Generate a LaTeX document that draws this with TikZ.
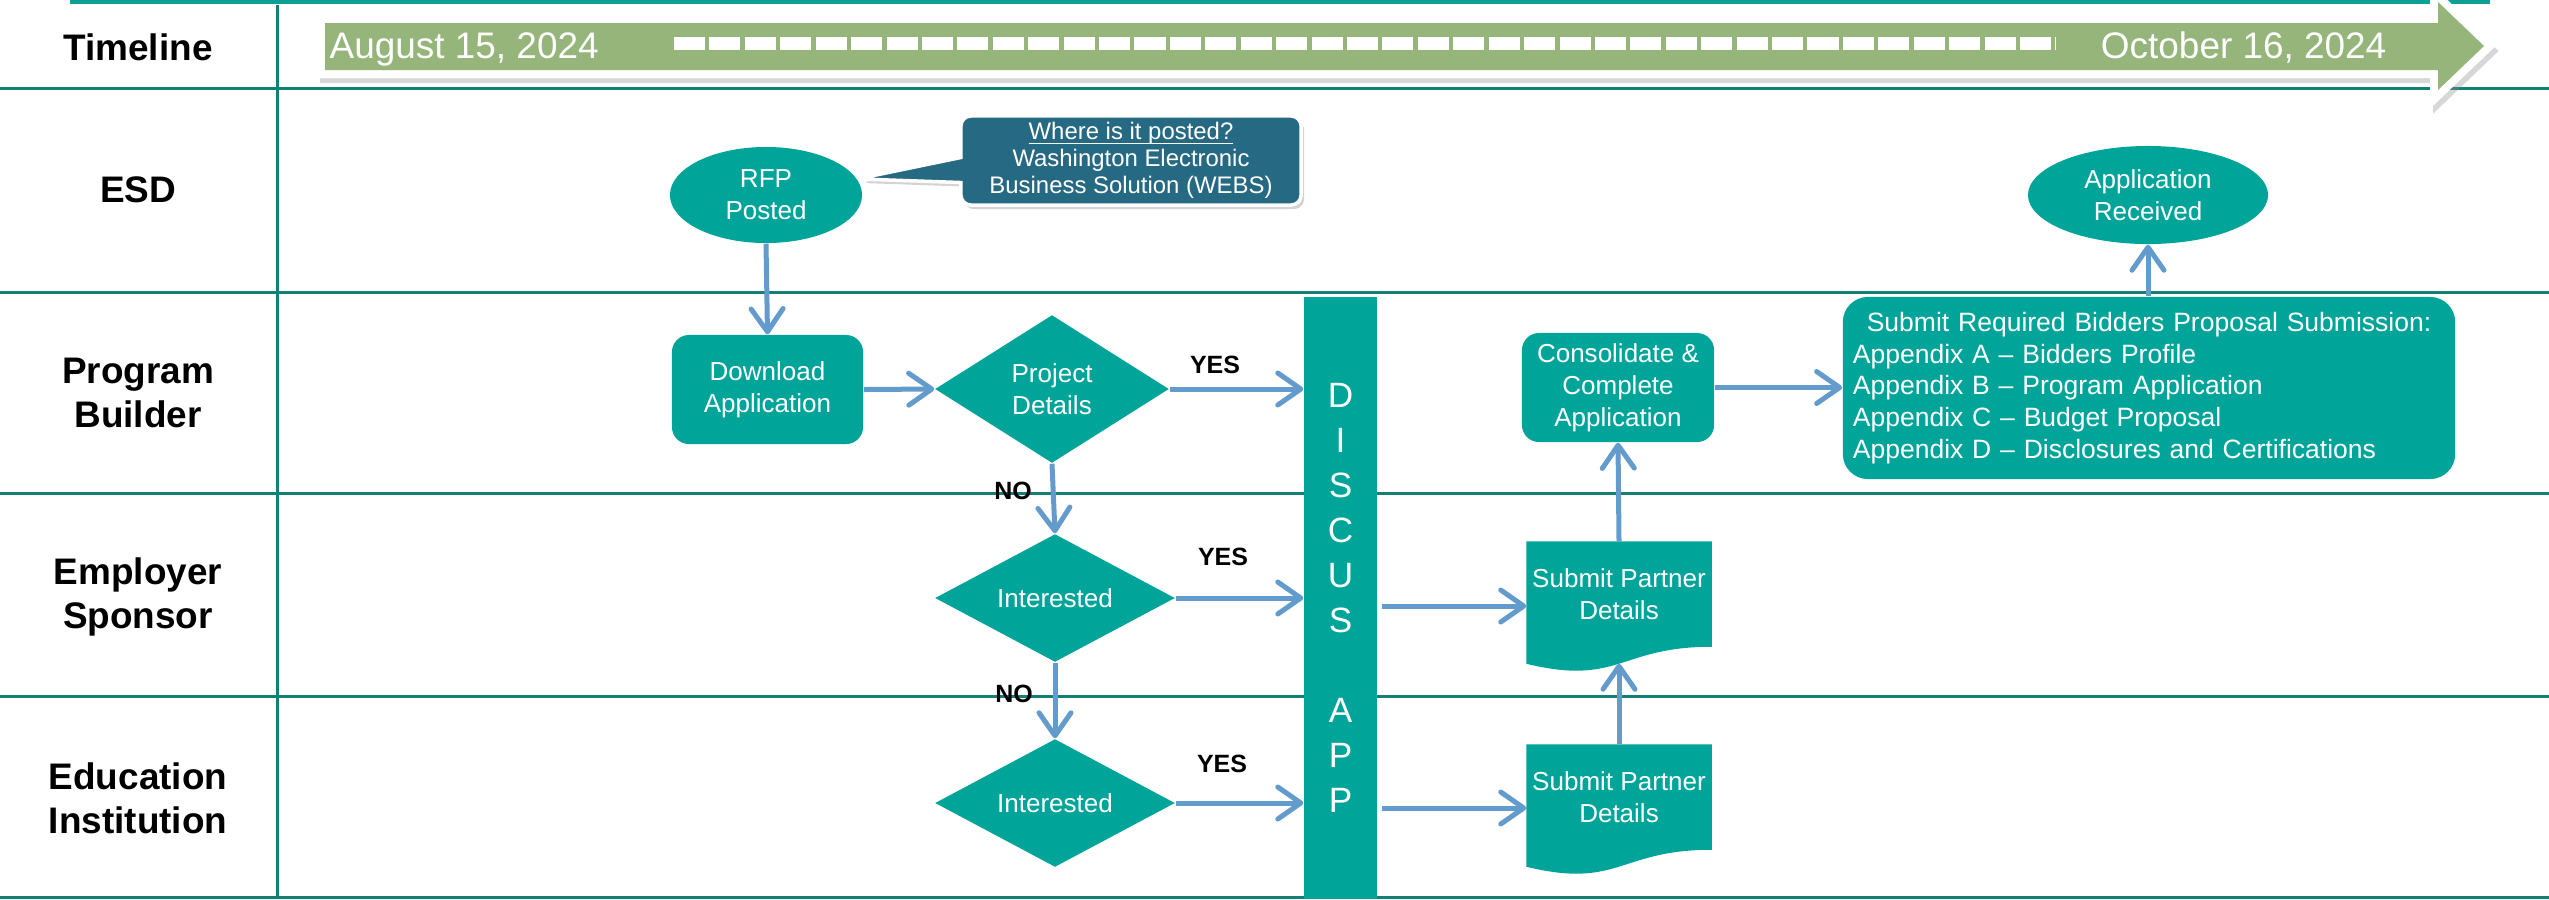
\documentclass[tikz,border=0pt]{standalone}
\usepackage{amsmath}
\usepackage{fontspec}
\setmainfont{Liberation Sans}
\usetikzlibrary{shapes.geometric,shapes.callouts,arrows.meta,shadows,calc,backgrounds}
\definecolor{teal1}{RGB}{0,164,153}
\definecolor{callblue}{RGB}{38,105,131}
\definecolor{arrblue}{RGB}{99,155,204}
\definecolor{laneline}{RGB}{21,127,117}
\definecolor{topline}{RGB}{14,160,150}
\definecolor{tlgreen}{RGB}{149,181,122}
\begin{document}
\begin{tikzpicture}[x=0.01cm,y=-0.01cm,
  lane/.style={draw=laneline,line width=0.03cm},
  topln/.style={draw=topline,line width=0.035cm},
  lanelabel/.style={font=\bfseries\fontsize{10.5}{12.5}\selectfont,align=center,inner sep=0},
  datetext/.style={text=white,font=\fontsize{10.5}{12.5}\selectfont,inner sep=0},
  flowtext/.style={text=white,font=\fontsize{7.4}{9.1}\selectfont,align=center},
  procbox/.style={flowtext,fill=teal1,rounded corners=0.17cm,minimum width=1.91cm,minimum height=1.09cm,inner sep=0},
  decision/.style={flowtext,diamond,fill=teal1,inner sep=0,shape aspect=1.8},
  terminal/.style={flowtext,ellipse,fill=teal1,inner sep=0},
  docbox/.style={flowtext,minimum width=1.84cm,minimum height=1.04cm,inner sep=0},
  arr/.style={draw=arrblue,line width=0.05cm,-{Straight Barb[length=0.23cm,width=0.32cm,round]}},
  yesno/.style={font=\bfseries\fontsize{7.1}{8.5}\selectfont,inner sep=0},
  tlshape/.style={line join=miter,line width=0.16cm}
]
\useasboundingbox (0,0) rectangle (2549,899);

% ---------- lanes ----------
\draw[topln] (70,2) -- (2490,2);
\foreach \yy in {88,292,493,696,897} \draw[lane] (0,\yy) -- (2549,\yy);
\draw[lane] (277,5) -- (277,899);

\node[lanelabel] (lTimeline) at (138,47) {Timeline};
\node[lanelabel] (lESD) at (138,190) {ESD};
\node[lanelabel] (lPB) at (138,393) {Program\\Builder};
\node[lanelabel] (lES) at (138,597) {Employer\\Sponsor};
\node[lanelabel] (lEI) at (138,798) {Education\\Institution};

% ---------- timeline arrow ----------
\def\tlpath{(325,23) -- (2438,23) -- (2438,2) -- (2484,46) -- (2438,90) -- (2438,70) -- (325,70) -- cycle}
\begin{scope}[shift={(3,5)}]
  \draw[tlshape,draw=black!45,fill=black!45,opacity=0.35] \tlpath;
\end{scope}
\draw[tlshape,draw=white,fill=white] \tlpath;
\fill[tlgreen] \tlpath;
\draw[white,line width=0.13cm,dash pattern=on 0.31cm off 0.044cm] (674,43) -- (2056,43);
\node[datetext,anchor=base west] (d1) at (329,58) {August 15, 2024};
\node[datetext,anchor=base east] (d2) at (2387,58) {October 16, 2024};

% ---------- ESD ----------
\node[terminal,minimum width=1.92cm,minimum height=0.96cm] (rfp) at (766,195) {RFP\\Posted};
\node[rectangle callout,callout absolute pointer={(rfp.10)},callout pointer width=0.25cm,
      fill=callblue,draw=white,line width=0.035cm,rounded corners=0.1cm,
      minimum width=3.4cm,minimum height=0.89cm,inner sep=0,text=white,
      font=\fontsize{6.8}{7.7}\selectfont,align=center,
      drop shadow={shadow xshift=0.03cm,shadow yshift=-0.04cm,opacity=0.35}]
      (call) at (1131,160.5) {\underline{\smash[b]{Where is it posted?}}\\Washington Electronic\\Business Solution (WEBS)};
\node[terminal,minimum width=2.40cm,minimum height=0.98cm] (apprec) at (2148,195) {Application\\Received};

% ---------- Program Builder ----------
\node[procbox] (dl) at (767.5,389.5) {Download\\Application};
\node[decision,minimum width=2.34cm,minimum height=1.48cm] (proj) at (1052,389) {Project\\Details};
\node[procbox,minimum width=1.92cm] (cons) at (1618,387.5) {Consolidate \&\\Complete\\Application};
\node[flowtext,fill=teal1,rounded corners=0.25cm,minimum width=6.12cm,minimum height=1.82cm,
      inner sep=0.1cm,text width=5.92cm,align=left,font=\fontsize{7.54}{9.0}\selectfont]
      (sub) at (2149,388) {{\centering Submit Required Bidders Proposal Submission:\par}Appendix A – Bidders Profile\\Appendix B – Program Application\\Appendix C – Budget Proposal\\Appendix D – Disclosures and Certifications};

% ---------- Employer / Education ----------
\node[decision,minimum width=2.40cm,minimum height=1.28cm] (int1) at (1055,598) {Interested};
\node[decision,minimum width=2.40cm,minimum height=1.28cm] (int2) at (1055,803) {Interested};

\node[docbox] (s1) at (1619,594) {Submit Partner\\Details};
\node[docbox] (s2) at (1619,797) {Submit Partner\\Details};
\begin{scope}[on background layer]
  \fill[teal1] (s1.north west) -- (s1.north east) -- (s1.south east)
     .. controls (s1.south) and ($(s1.south)+(0,39.5)$) .. ($(s1.south west)+(0,17)$) -- cycle;
  \fill[teal1] (s2.north west) -- (s2.north east) -- (s2.south east)
     .. controls (s2.south) and ($(s2.south)+(0,39.5)$) .. ($(s2.south west)+(0,17)$) -- cycle;
\end{scope}
\coordinate (s1w) at ($(s1.south)+(0,17)$);

% ---------- DISCUS APP bar ----------
\node[fill=teal1,minimum width=0.73cm,minimum height=6.02cm,inner sep=0,text=white,
      font=\fontsize{10}{12.8}\selectfont,align=center] (bar) at (1340.5,598)
      {D\\I\\S\\C\\U\\S\\[12.8pt]A\\P\\P};

% ---------- connectors ----------
\draw[arr] (rfp.south) -- (dl.north);
\draw[arr] (dl.east) -- (proj.west);
\draw[arr] (proj.east) -- (proj.east -| bar.west);
\draw[arr] (proj.south) -- (int1.north);
\draw[arr] (int1.east) -- (int1.east -| bar.west);
\draw[arr] (int1.south) -- (int2.north);
\draw[arr] (int2.east) -- (int2.east -| bar.west);
\draw[arr] ($(bar.east |- s1.west)+(4,12)$) -- ($(s1.west)+(0,12)$);
\draw[arr] ($(bar.east |- s2.west)+(4,11)$) -- ($(s2.west)+(0,11)$);
\draw[arr] (s2.north) -- (s1w);
\draw[arr] (s1.north) -- (cons.south);
\draw[arr] (cons.east) -- (cons.east -| sub.west);
\draw[arr] (sub.north -| apprec.south) -- (apprec.south);

% ---------- labels ----------
\node[yesno] (yes1) at (1215,365) {YES};
\node[yesno] (yes2) at (1223,557) {YES};
\node[yesno] (yes3) at (1222,764) {YES};
\node[yesno] (no1) at (1013,491) {NO};
\node[yesno] (no2) at (1014,694) {NO};
\end{tikzpicture}
\end{document}
